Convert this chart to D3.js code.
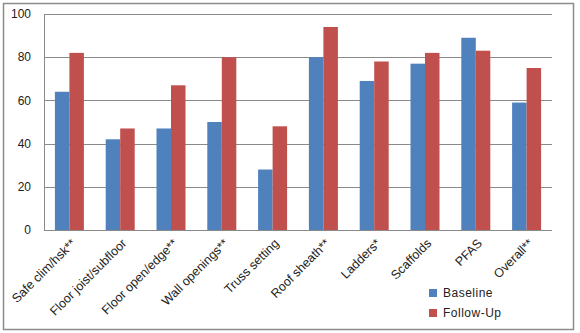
<!DOCTYPE html>
<html>
<head>
<meta charset="utf-8">
<script src="https://cdn.jsdelivr.net/npm/d3@7"></script>
<style>
  html, body { margin: 0; padding: 0; background: #fff; }
  svg { display: block; font-family: "Liberation Sans", Arial, sans-serif; }
</style>
</head>
<body>
<svg id="chart" width="580" height="333"></svg>
<script>
// Safety practice scores by task, baseline vs follow-up
const categories = ["Safe clim/hsk**", "Floor joist/subfloor", "Floor open/edge**", "Wall openings**",
  "Truss setting", "Roof sheath**", "Ladders*", "Scaffolds", "PFAS", "Overall**"];
const baseline = [64, 42, 47, 50, 28, 80, 69, 77, 89, 59];
const followUp = [82, 47, 67, 80, 48, 94, 78, 82, 83, 75];
const seriesNames = ["Baseline", "Follow-Up"];
const seriesColors = ["#4F81BD", "#C0504D"];
const yTicks = [0, 20, 40, 60, 80, 100];

const svg = d3.select("#chart");
const plot = { left: 44, right: 552, top: 14, bottom: 230 };

// outer frame
svg.append("rect")
  .attr("x", 3.5).attr("y", 3.5).attr("width", 570).attr("height", 326)
  .attr("fill", "#fff").attr("stroke", "#8c8c8c").attr("stroke-width", 1.5);

const x = d3.scaleBand().domain(categories).range([plot.left, plot.right]).paddingInner(0).paddingOuter(0);
const xSeries = d3.scaleBand().domain(seriesNames).range([0, 29]);
const y = d3.scaleLinear().domain([0, 100]).range([plot.bottom, plot.top]);

// horizontal gridlines
svg.append("g").selectAll("line").data(yTicks).join("line")
  .attr("x1", plot.left).attr("x2", plot.right)
  .attr("y1", d => Math.round(y(d)) + 0.5).attr("y2", d => Math.round(y(d)) + 0.5)
  .attr("stroke", "#8a8a8a").attr("stroke-width", 1);

// y axis line
svg.append("line")
  .attr("x1", plot.left + 0.5).attr("x2", plot.left + 0.5)
  .attr("y1", plot.top).attr("y2", plot.bottom + 1)
  .attr("stroke", "#8a8a8a");

// y tick labels
svg.append("g").selectAll("text").data(yTicks).join("text")
  .attr("x", 31).attr("y", d => y(d)).attr("dy", "0.35em")
  .attr("text-anchor", "end").attr("font-size", 12).attr("fill", "#222")
  .text(d => d);

// bars
const series = [baseline, followUp];
series.forEach((vals, si) => {
  svg.append("g").selectAll("rect").data(vals).join("rect")
    .attr("x", (d, i) => x(categories[i]) + x.bandwidth() / 2 - 14.5 + xSeries(seriesNames[si]))
    .attr("y", d => y(d))
    .attr("width", xSeries.bandwidth())
    .attr("height", d => y(0) - y(d))
    .attr("fill", seriesColors[si]);
});

// rotated category labels
svg.append("g").selectAll("text").data(categories).join("text")
  .attr("transform", d => `translate(${x(d) + x.bandwidth() / 2 + 4},${241}) rotate(-45)`)
  .attr("text-anchor", "end").attr("dy", "0.35em")
  .attr("font-size", 12.5).attr("fill", "#222")
  .text(d => d);

// legend
const legend = svg.append("g").attr("transform", "translate(429,0)");
seriesNames.forEach((name, i) => {
  const ly = 293 + i * 20;
  legend.append("rect").attr("x", 0).attr("y", ly - 4).attr("width", 8).attr("height", 8)
    .attr("fill", seriesColors[i]);
  legend.append("text").attr("x", 14).attr("y", ly).attr("dy", "0.35em")
    .attr("font-size", 12).attr("fill", "#222").attr("letter-spacing", 0.5).text(name);
});
</script>
</body>
</html>
